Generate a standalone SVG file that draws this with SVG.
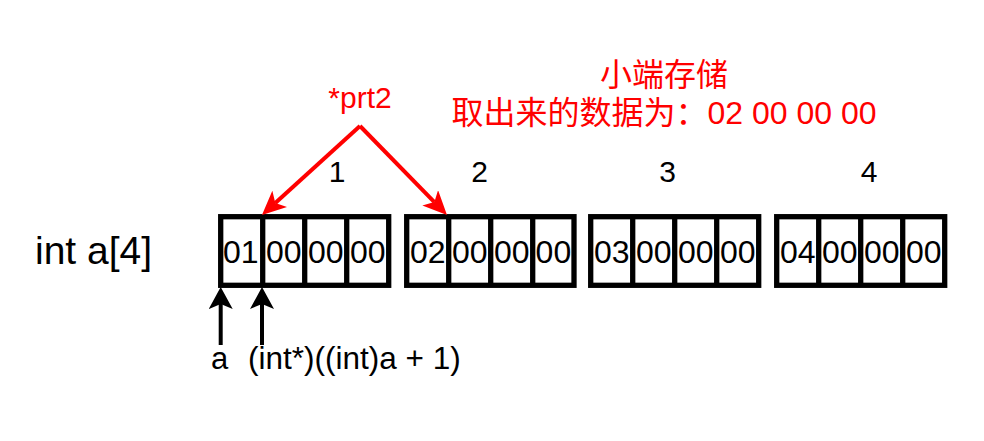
<svg xmlns="http://www.w3.org/2000/svg" width="984" height="441" viewBox="0 0 984 441">
<defs>
<style>
.box{fill:#fff;stroke:#000;stroke-width:5.3}
.div{stroke:#000;stroke-width:5.3}
.cell{font-family:"Liberation Sans",Arial,sans-serif;font-size:32px;fill:#000;text-anchor:middle}
.lbl{font-family:"Liberation Sans",Arial,sans-serif;font-size:30px;fill:#000}
.red{font-family:"Liberation Sans","Noto Sans CJK SC",sans-serif;font-size:32px;fill:#FF0000}
.ra{stroke:#FF0000;stroke-width:4;fill:none}
.ba{stroke:#000;stroke-width:4;fill:none}
</style>
<marker id="mr" viewBox="0 0 24 22" refX="6" refY="11" markerWidth="24" markerHeight="22" markerUnits="userSpaceOnUse" orient="auto">
<path d="M0,0 L24,11 L0,22 L6,11 z" fill="#FF0000"/>
</marker>
<marker id="mb" viewBox="0 0 22 24" refX="5" refY="12" markerWidth="22" markerHeight="24" markerUnits="userSpaceOnUse" orient="auto">
<path d="M0,0 L22,12 L0,24 L5,12 z" fill="#000"/>
</marker>
</defs>
<rect width="984" height="441" fill="#fff"/>

<g id="label-int">
<text class="lbl" x="35" y="264" style="font-size:39px">int a[4]</text>
</g>

<g id="int1">
<rect class="box" x="220.7" y="216.7" width="168" height="68.6"/>
<line class="div" x1="262.7" y1="216.7" x2="262.7" y2="285.3"/>
<line class="div" x1="304.7" y1="216.7" x2="304.7" y2="285.3"/>
<line class="div" x1="346.7" y1="216.7" x2="346.7" y2="285.3"/>
<text class="cell" x="240.7" y="263">01</text>
<text class="cell" x="283.7" y="263">00</text>
<text class="cell" x="325.7" y="263">00</text>
<text class="cell" x="367.7" y="263">00</text>
</g>
<g id="int2">
<rect class="box" x="406.7" y="216.7" width="167.3" height="68.6"/>
<line class="div" x1="448.7" y1="216.7" x2="448.7" y2="285.3"/>
<line class="div" x1="490.7" y1="216.7" x2="490.7" y2="285.3"/>
<line class="div" x1="532.7" y1="216.7" x2="532.7" y2="285.3"/>
<text class="cell" x="427.7" y="263">02</text>
<text class="cell" x="469.7" y="263">00</text>
<text class="cell" x="511.7" y="263">00</text>
<text class="cell" x="553.4" y="263">00</text>
</g>
<g id="int3">
<rect class="box" x="590.7" y="216.7" width="168" height="68.6"/>
<line class="div" x1="632.7" y1="216.7" x2="632.7" y2="285.3"/>
<line class="div" x1="674.7" y1="216.7" x2="674.7" y2="285.3"/>
<line class="div" x1="716.7" y1="216.7" x2="716.7" y2="285.3"/>
<text class="cell" x="611.7" y="263">03</text>
<text class="cell" x="653.7" y="263">00</text>
<text class="cell" x="695.7" y="263">00</text>
<text class="cell" x="737.7" y="263">00</text>
</g>
<g id="int4">
<rect class="box" x="776.7" y="216.7" width="168" height="68.6"/>
<line class="div" x1="818.7" y1="216.7" x2="818.7" y2="285.3"/>
<line class="div" x1="860.7" y1="216.7" x2="860.7" y2="285.3"/>
<line class="div" x1="902.7" y1="216.7" x2="902.7" y2="285.3"/>
<text class="cell" x="797.7" y="263">04</text>
<text class="cell" x="839.7" y="263">00</text>
<text class="cell" x="881.7" y="263">00</text>
<text class="cell" x="923.7" y="263">00</text>
</g>

<g id="index-labels">
<text class="lbl" x="337" y="182" text-anchor="middle">1</text>
<text class="lbl" x="479.5" y="182" text-anchor="middle">2</text>
<text class="lbl" x="667.5" y="182" text-anchor="middle">3</text>
<text class="lbl" x="869" y="182" text-anchor="middle">4</text>
</g>

<g id="ptr-label">
<text class="red" x="360" y="108" text-anchor="middle" style="font-size:30px">*prt2</text>
</g>

<g id="note">
<text class="red" x="664" y="86" text-anchor="middle">小端存储</text>
<text class="red" x="664" y="124" text-anchor="middle">取出来的数据为：02 00 00 00</text>
</g>

<g id="bottom-labels">
<text class="lbl" x="211" y="369" style="font-size:31px">a</text>
<text class="lbl" x="248" y="369" style="font-size:31.5px">(int*)((int)a + 1)</text>
</g>

<g id="connectors">
<line class="ra" x1="360" y1="126" x2="275.3" y2="202.9" marker-end="url(#mr)"/>
<line class="ra" x1="360" y1="126" x2="434.4" y2="202.1" marker-end="url(#mr)"/>
<line class="ba" x1="220.7" y1="345" x2="220.7" y2="304" marker-end="url(#mb)"/>
<line class="ba" x1="262" y1="345" x2="262" y2="304" marker-end="url(#mb)"/>
</g>
</svg>
